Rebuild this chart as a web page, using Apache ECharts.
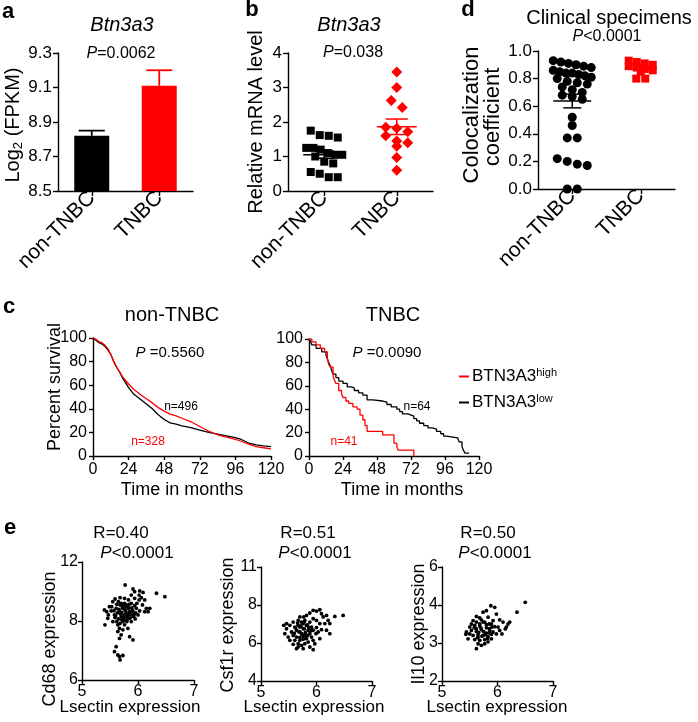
<!DOCTYPE html>
<html><head><meta charset="utf-8">
<script src="https://cdn.jsdelivr.net/npm/echarts/dist/echarts.min.js"></script>
<style>html,body{margin:0;padding:0;background:#fff}#c{width:698px;height:722px}</style>
</head><body><div id="c"></div>
<script>
// ---------------- data ----------------
const groups = ['non-TNBC', 'TNBC'];
// panel a
const aMeans = [8.82, 9.11];
const aErrors = [0.03, 0.09];
// panel b (relative mRNA level)
const bNonTNBC = [1.75, 1.62, 1.6, 1.55, 1.25, 1.2, 1.25, 1.1, 1.05, 1.0, 1.05, 0.85, 0.8, 0.55, 0.5, 0.4, 0.4];
const bTNBC = [3.45, 3.0, 2.62, 2.42, 1.82, 1.85, 1.72, 1.6, 1.45, 1.4, 1.3, 0.97, 0.6];
// panel d (colocalization coefficient)
const dNonTNBC = [0.93, 0.92, 0.91, 0.90, 0.89, 0.88, 0.86, 0.85, 0.84, 0.84, 0.83, 0.82, 0.81, 0.80, 0.78, 0.77, 0.76, 0.74, 0.72, 0.70, 0.68, 0.67, 0.65, 0.52, 0.46, 0.37, 0.37, 0.22, 0.20, 0.18, 0.17, 0.0, 0.0];
const dTNBC = [0.93, 0.92, 0.91, 0.90, 0.89, 0.88, 0.87, 0.86, 0.85, 0.80, 0.80];
// panel c (Kaplan-Meier, [months, percent survival])
const kmNonHigh = [[0,100],[2,99],[4,97],[6,96],[8,94],[10,91],[12,86],[14,80],[16,75],[18,71],[20,67],[22,64],[24,61],[27,57],[30,54],[33,51],[36,48.5],[40,45],[44,41],[48,38],[52,35.5],[56,34],[60,32],[66,29],[72,25],[78,21],[84,18],[90,16],[96,14],[100,12.5],[105,10],[110,8],[115,7],[120,6]];
const kmNonLow = [[0,100],[2,98],[4,96],[6,95],[8,93],[10,90],[12,86],[14,80],[16,75],[18,71],[20,66],[22,62],[24,58],[27,53],[30,50],[33,47],[36,44],[40,40],[44,35],[48,31],[52,28],[56,27],[60,25.5],[66,24],[72,22],[78,20],[84,18.5],[90,17],[96,15.5],[100,14],[105,11],[110,9.5],[115,8.5],[120,8]];
const kmTnbcHigh = [[0,100],[2,97.5],[5,95],[8,92],[11,89],[13,83],[14,78],[15,76],[17,68],[18,65],[19,62],[21,56],[23,53],[24,50],[26,47],[28,45],[31,42],[34,40],[36,35],[38,31],[39.5,26],[41,21],[52,18],[60,11],[62,8],[63,5],[74,0]];
const kmTnbcLow = [[0,100],[1,98],[2,95],[5,92],[9,89],[12,86],[13,83],[14,80],[15,77],[16,73],[17,70],[19,67],[21,64],[24,62],[27,59],[30,58],[32,56],[35,54],[38,52],[41,48],[45,47],[52,46],[55,44],[58,42],[62,40],[64,38],[66,36],[70,35],[72,34],[74,32],[76,30],[78,28],[81,26],[84,24],[87,23],[90,21],[93,19],[95,17],[97,15.5],[105,15.5],[106,12],[108,8],[109,5],[110,2.5],[113,2.5]];
const kmTicksX = [0, 24, 48, 72, 96, 120];
// panel e (Lsectin vs. marker expression)
const eXTicks = [5, 6, 7];
const e1YTicks = [6, 8, 12];
const e2YTicks = [4, 6, 8, 11];
const e3YTicks = [2, 3, 4, 6];
const e1Points = [[5.77,10.44],[5.91,10.17],[5.94,9.99],[6.03,10.04],[6.09,9.94],[6.02,9.76],[5.88,9.76],[5.94,9.54],[6.06,9.58],[6.33,9.88],[6.48,9.65],[6.12,9.43],[6.08,9.09],[6.15,8.86],[6.21,8.86],[6.18,8.63],[6.12,8.63],[5.59,9.49],[5.55,9.31],[5.65,9.31],[5.49,8.97],[5.44,8.63],[5.52,8.68],[5.61,8.86],[5.68,9.09],[5.76,9.20],[5.82,8.97],[5.73,8.86],[5.67,8.63],[5.58,8.41],[5.46,8.18],[5.55,7.98],[5.41,7.87],[5.64,7.87],[5.73,7.98],[5.82,8.18],[5.88,8.41],[5.91,8.63],[5.97,8.86],[5.85,8.63],[5.79,8.52],[5.70,8.30],[5.76,8.07],[5.67,7.75],[5.73,7.70],[5.70,7.53],[5.67,7.41],[5.85,7.47],[5.91,7.36],[5.61,7.13],[5.58,6.96],[5.64,6.85],[5.67,6.79],[5.73,6.83],[5.68,6.68],[5.70,9.20],[5.79,9.09],[5.88,9.20],[5.94,9.04],[5.83,8.86],[5.77,8.75],[5.71,8.59],[5.86,8.45],[5.92,8.30],[5.82,8.36],[5.74,8.23],[5.65,8.14],[5.59,8.23],[5.80,7.98],[5.88,7.98],[5.68,7.92],[5.95,8.14],[6.00,8.41],[6.03,8.68],[5.98,9.20],[6.02,9.43],[5.83,9.43],[5.76,9.54],[5.68,9.58],[5.62,9.13],[5.53,8.97],[5.47,8.41],[5.40,8.75],[5.62,7.98],[5.76,7.87],[5.82,7.75],[5.64,7.64],[5.72,8.95],[5.78,8.68],[5.84,8.55],[5.90,8.72],[5.75,8.40],[5.69,8.48],[5.63,8.55],[5.80,8.28],[5.86,8.20],[5.71,8.10],[5.78,9.00],[5.66,8.78],[5.74,9.10],[5.89,8.88],[5.96,8.55],[5.60,8.35],[5.84,9.12],[5.93,8.42],[5.57,8.70],[5.81,8.12]];
const e2Points = [[5.94,7.72],[6.00,7.68],[6.06,7.75],[6.09,7.54],[5.88,7.58],[5.82,7.45],[5.77,7.37],[6.12,7.37],[6.18,7.45],[6.21,7.19],[6.33,7.40],[6.48,7.45],[6.24,7.02],[6.15,7.02],[6.06,7.02],[6.00,6.81],[6.09,6.70],[6.18,6.67],[6.24,6.49],[5.99,6.49],[5.91,6.31],[5.94,6.14],[5.85,6.05],[5.79,5.96],[5.73,5.88],[5.67,5.79],[5.64,5.70],[5.58,5.93],[5.52,6.14],[5.49,6.31],[5.43,6.49],[5.46,6.75],[5.52,6.93],[5.58,7.10],[5.67,7.19],[5.70,7.37],[5.61,6.84],[5.55,6.58],[5.64,6.31],[5.73,6.49],[5.76,6.75],[5.82,6.93],[5.88,7.10],[5.94,7.28],[6.00,7.19],[5.85,6.67],[5.79,6.40],[5.70,6.14],[5.61,6.14],[5.88,5.79],[5.94,5.65],[5.97,5.96],[6.06,6.23],[5.46,7.02],[5.41,6.93],[5.70,6.84],[5.76,7.02],[5.79,7.19],[5.73,7.10],[5.67,6.93],[5.64,6.67],[5.70,6.58],[5.76,6.31],[5.82,6.23],[5.88,6.49],[5.91,6.84],[5.94,6.67],[6.03,6.58],[5.58,6.40],[5.67,5.96],[5.76,5.70],[5.72,6.90],[5.78,6.75],[5.84,6.95],[5.68,6.60],[5.74,6.45],[5.80,6.55],[5.62,6.80],[5.86,6.80],[5.66,7.05],[5.90,6.65],[5.76,6.20],[5.70,6.30],[5.84,6.40],[5.60,6.50],[5.78,7.10]];
const e3Points = [[6.50,4.14],[6.35,3.81],[5.88,3.98],[5.95,3.94],[5.80,3.85],[5.74,3.81],[5.98,3.76],[5.62,3.70],[5.68,3.66],[5.83,3.68],[6.04,3.61],[6.10,3.55],[6.19,3.50],[6.22,3.55],[5.56,3.59],[5.53,3.50],[5.50,3.42],[5.59,3.46],[5.68,3.50],[5.77,3.55],[5.89,3.50],[5.95,3.43],[6.01,3.42],[6.14,3.37],[6.16,3.42],[5.44,3.29],[5.43,3.23],[5.53,3.33],[5.62,3.37],[5.71,3.35],[5.80,3.40],[5.86,3.33],[5.92,3.29],[5.98,3.24],[5.56,3.20],[5.65,3.23],[5.74,3.20],[5.83,3.17],[5.47,3.11],[5.59,3.09],[5.68,3.07],[5.77,3.09],[5.89,3.11],[5.65,2.98],[5.71,2.94],[5.77,2.98],[5.62,2.85],[5.83,3.03],[6.04,3.33],[6.08,3.24],[5.50,3.24],[5.62,3.55],[5.71,3.61],[5.92,3.59],[5.85,3.50],[5.65,3.16],[5.80,3.26],[5.89,3.23],[5.70,3.40],[5.75,3.30],[5.80,3.48],[5.66,3.28],[5.72,3.18],[5.85,3.38],[5.78,3.22],[5.62,3.30],[5.68,3.45],[5.90,3.42],[5.74,3.55],[5.82,3.12],[5.64,3.14],[5.58,3.40],[5.86,3.26]];

// ---------------- helpers ----------------
const FF = '"Liberation Sans", Arial, Helvetica, sans-serif';
const K = '#000000', RED = '#ff0000';

function mean(a) { return a.reduce((s, v) => s + v, 0) / a.length; }
function sem(a) { const m = mean(a); const sd = Math.sqrt(a.reduce((s, v) => s + (v - m) * (v - m), 0) / (a.length - 1)); return sd / Math.sqrt(a.length); }
// column scatter layout: points grouped into rows by value, each row spread symmetrically (limited width)
function column(vals, center, pxPerY, pxPerX, size, rowH, maxHalf) {
  const idx = vals.map((v, i) => i).sort((a, b) => vals[b] - vals[a]);
  const rows = []; let cur = [];
  for (const i of idx) {
    if (cur.length && (vals[cur[0]] - vals[i]) * pxPerY >= rowH) { rows.push(cur); cur = []; }
    cur.push(i);
  }
  if (cur.length) rows.push(cur);
  const out = new Array(vals.length);
  for (const r of rows) {
    const n = r.length;
    const sp = n > 1 ? Math.min(size + 1, 2 * maxHalf / (n - 1)) : 0;
    r.forEach((i, j) => { out[i] = [center + ((j - (n - 1) / 2) * sp) / pxPerX, vals[i]]; });
  }
  return out;
}
// piecewise-linear mapping used by the panel-e y axes (evenly spaced, uneven tick values)
function seg(v, ticks) {
  for (let i = 0; i < ticks.length - 1; i++) {
    if (v <= ticks[i + 1] || i === ticks.length - 2) return i + (v - ticks[i]) / (ticks[i + 1] - ticks[i]);
  }
}
function T(x, y, text, size, o) {
  o = o || {};
  const st = {
    text: text, fontSize: size, fontFamily: FF, fontWeight: o.bold ? 'bold' : 'normal',
    fontStyle: o.italic ? 'italic' : 'normal', fill: o.color || K,
    align: 'center', verticalAlign: 'middle', textAlign: 'center', textVerticalAlign: 'middle'
  };
  if (o.rich) st.rich = o.rich;
  return { type: 'text', x: x, y: y, rotation: o.rot || 0, silent: true, style: st };
}
function pRich(size) { return { i: { fontStyle: 'italic', fontSize: size, fontFamily: FF, fill: K, color: K } }; }

const AX = { show: true, onZero: false, lineStyle: { color: K, width: 1.4 } };
const TK = (len) => ({ show: true, inside: false, length: len, lineStyle: { color: K, width: 1.4 } });
const LB = (size, margin, extra) => Object.assign({ color: K, fontSize: size, fontFamily: FF, margin: margin }, extra || {});

function catX(grid) {
  return { type: 'category', gridIndex: grid, data: groups, boundaryGap: true,
    axisLine: AX, axisTick: Object.assign(TK(5), { alignWithLabel: true }),
    axisLabel: LB(21, 4, { rotate: 45, interval: 0 }), splitLine: { show: false } };
}
function hidX(grid) { return { type: 'value', gridIndex: grid, min: -0.5, max: 1.5, show: false, splitLine: { show: false } }; }
function valAxis(grid, min, max, interval, size, fmt, tick) {
  return { type: 'value', gridIndex: grid, min: min, max: max, interval: interval,
    axisLine: AX, axisTick: TK(tick || 5), splitLine: { show: false },
    axisLabel: LB(size, 6, fmt ? { formatter: fmt } : {}) };
}
function meanSem(halfMean, halfCap, color) {
  return function (params, api) {
    const x = api.value(0), m = api.value(1), s = api.value(2);
    const c = api.coord([x, m]), t = api.coord([x, m + s]), b = api.coord([x, m - s]);
    const st = { stroke: color, lineWidth: 1.5, fill: 'none' };
    return { type: 'group', children: [
      { type: 'line', shape: { x1: c[0] - halfMean, y1: c[1], x2: c[0] + halfMean, y2: c[1] }, style: st },
      { type: 'line', shape: { x1: t[0], y1: t[1], x2: b[0], y2: b[1] }, style: st },
      { type: 'line', shape: { x1: t[0] - halfCap, y1: t[1], x2: t[0] + halfCap, y2: t[1] }, style: st },
      { type: 'line', shape: { x1: b[0] - halfCap, y1: b[1], x2: b[0] + halfCap, y2: b[1] }, style: st }
    ] };
  };
}
function upErr(halfCap) {
  return function (params, api) {
    const i = api.value(0), m = api.value(1), e = api.value(2);
    const c = api.coord([i, m]), t = api.coord([i, m + e]);
    const color = i ? RED : K;
    const st = { stroke: color, lineWidth: 1.8, fill: 'none' };
    return { type: 'group', children: [
      { type: 'line', shape: { x1: c[0], y1: c[1], x2: t[0], y2: t[1] }, style: st },
      { type: 'line', shape: { x1: t[0] - halfCap, y1: t[1], x2: t[0] + halfCap, y2: t[1] }, style: st }
    ] };
  };
}

// grid geometry
const G = [
  { left: 58, top: 53, width: 135, height: 138 },   // a
  { left: 288, top: 53, width: 145, height: 138 },  // b
  { left: 538, top: 51, width: 137, height: 138 },  // d
  { left: 93, top: 338, width: 178, height: 118 },  // c non-TNBC
  { left: 309, top: 339, width: 170, height: 117 }, // c TNBC
  { left: 82, top: 562, width: 112, height: 118 },  // e1
  { left: 261, top: 567, width: 111, height: 114 }, // e2
  { left: 442, top: 567, width: 111, height: 114 }  // e3
].map(g => Object.assign({ outerBoundsMode: 'none', containLabel: false }, g));

const kmLine = (name, data, color, xi, yi, step) => ({
  type: 'line', name: name, xAxisIndex: xi, yAxisIndex: yi, data: data, step: step,
  symbol: 'none', lineStyle: { color: color, width: 1.3 }, itemStyle: { color: color }, silent: true, animation: false
});
const eScatter = (pts, ticks, xi, yi) => ({
  type: 'scatter', xAxisIndex: xi, yAxisIndex: yi, symbolSize: 3.8, itemStyle: { color: K, opacity: 1 },
  data: pts.map(p => [p[0], seg(p[1], ticks)]), silent: true, animation: false
});
const eY = (grid, ticks) => ({
  type: 'value', gridIndex: grid, min: 0, max: ticks.length - 1, interval: 1,
  axisLine: AX, axisTick: TK(4), splitLine: { show: false },
  axisLabel: LB(16, 4, { formatter: v => String(ticks[Math.round(v)]) })
});
const eX = (grid) => ({
  type: 'value', gridIndex: grid, min: eXTicks[0], max: eXTicks[eXTicks.length - 1], interval: 1,
  axisLine: AX, axisTick: TK(4), splitLine: { show: false }, axisLabel: LB(16, 4)
});
const kmX = (grid) => ({
  type: 'value', gridIndex: grid, min: kmTicksX[0], max: kmTicksX[kmTicksX.length - 1], interval: 24,
  axisLine: AX, axisTick: TK(4), splitLine: { show: false }, axisLabel: LB(16, 6)
});

const option = {
  animation: false,
  backgroundColor: '#ffffff',
  textStyle: { fontFamily: FF, color: K },
  grid: G,
  xAxis: [
    catX(0),            // 0 a
    catX(1),            // 1 b labels
    hidX(1),            // 2 b column positions
    catX(2),            // 3 d labels
    hidX(2),            // 4 d column positions
    kmX(3),             // 5
    kmX(4),             // 6
    eX(5), eX(6), eX(7) // 7,8,9
  ],
  yAxis: [
    valAxis(0, 8.5, 9.3, 0.2, 17, v => v.toFixed(1)),
    valAxis(1, 0, 4, 1, 17),
    valAxis(2, 0, 1, 0.2, 17, v => v.toFixed(1)),
    valAxis(3, 0, 100, 20, 16, null, 4),
    valAxis(4, 0, 100, 20, 16, null, 4),
    eY(5, e1YTicks), eY(6, e2YTicks), eY(7, e3YTicks)
  ],
  legend: {
    orient: 'vertical', left: 454, top: 362, itemWidth: 10, itemHeight: 2, itemGap: 8, icon: 'rect',
    selectedMode: false, data: ['high', 'low'],
    formatter: n => 'BTN3A3{s|' + n + '}',
    textStyle: { fontSize: 17, fontFamily: FF, color: K, padding: [0, 0, 0, -2],
      rich: { s: { fontSize: 11, fontFamily: FF, color: K, verticalAlign: 'top', padding: [0, 0, 8, 0] } } }
  },
  series: [
    { type: 'bar', xAxisIndex: 0, yAxisIndex: 0, barWidth: 35, silent: true,
      data: aMeans.map((v, i) => ({ value: v, itemStyle: { color: i ? RED : K } })) },
    { type: 'custom', xAxisIndex: 0, yAxisIndex: 0, silent: true, renderItem: upErr(13),
      data: aMeans.map((m, i) => [i, m, aErrors[i]]) },

    { type: 'scatter', xAxisIndex: 2, yAxisIndex: 1, symbol: 'rect', symbolSize: 8, silent: true,
      itemStyle: { color: K, opacity: 1 }, data: column(bNonTNBC, 0, 138 / 4, 145 / 2, 8, 7, 18) },
    { type: 'scatter', xAxisIndex: 2, yAxisIndex: 1, symbol: 'diamond', symbolSize: 11, silent: true,
      itemStyle: { color: RED, opacity: 1 }, data: column(bTNBC, 1, 138 / 4, 145 / 2, 10, 7, 11) },
    { type: 'custom', xAxisIndex: 2, yAxisIndex: 1, silent: true, z: 5, renderItem: meanSem(21, 10, K),
      data: [[0, mean(bNonTNBC), sem(bNonTNBC)]] },
    { type: 'custom', xAxisIndex: 2, yAxisIndex: 1, silent: true, z: 5, renderItem: meanSem(20, 11, RED),
      data: [[1, mean(bTNBC), sem(bTNBC)]] },

    { type: 'scatter', xAxisIndex: 4, yAxisIndex: 2, symbol: 'circle', symbolSize: 9, silent: true,
      itemStyle: { color: K, opacity: 1 }, data: column(dNonTNBC, 0, 138, 137 / 2, 9, 7, 19) },
    { type: 'scatter', xAxisIndex: 4, yAxisIndex: 2, symbol: 'rect', symbolSize: 8, silent: true,
      itemStyle: { color: RED, opacity: 1 }, data: column(dTNBC, 1, 138, 137 / 2, 8, 5, 12) },
    { type: 'custom', xAxisIndex: 4, yAxisIndex: 2, silent: true, z: 5, renderItem: meanSem(19, 9, K),
      data: [[0, mean(dNonTNBC), sem(dNonTNBC)]] },
    { type: 'custom', xAxisIndex: 4, yAxisIndex: 2, silent: true, z: 5, renderItem: meanSem(16, 8, RED),
      data: [[1, mean(dTNBC), sem(dTNBC)]] },

    kmLine('low', kmNonLow, K, 5, 3, false),
    kmLine('high', kmNonHigh, RED, 5, 3, false),
    kmLine('low', kmTnbcLow, K, 6, 4, 'end'),
    kmLine('high', kmTnbcHigh, RED, 6, 4, 'end'),

    eScatter(e1Points, e1YTicks, 7, 5),
    eScatter(e2Points, e2YTicks, 8, 6),
    eScatter(e3Points, e3YTicks, 9, 7)
  ],
  graphic: { elements: [
    // panel letters
    T(8, 12, 'a', 22, { bold: true }), T(252, 10, 'b', 22, { bold: true }), T(468, 10, 'd', 22, { bold: true }),
    T(9, 307, 'c', 22, { bold: true }), T(10, 528, 'e', 22, { bold: true }),
    // panel a
    T(122, 25, 'Btn3a3', 20, { italic: true }),
    T(121, 54, '{i|P}=0.0062', 16, { rich: pRich(16) }),
    T(13, 125, 'Log{s|2} (FPKM)', 20, { rot: Math.PI / 2, rich: { s: { fontSize: 13, fontFamily: FF, fill: K, padding: [10, 0, 0, 0] } } }),
    // panel b
    T(349, 25, 'Btn3a3', 20, { italic: true }),
    T(353, 53, '{i|P}=0.038', 16, { rich: pRich(16) }),
    T(256, 122, 'Relative mRNA level', 20, { rot: Math.PI / 2 }),
    // panel d
    T(609, 18, 'Clinical specimens', 20),
    T(607, 37, '{i|P}<0.0001', 16, { rich: pRich(16) }),
    T(472, 115, 'Colocalization', 22, { rot: Math.PI / 2 }),
    T(493, 117, 'coefficient', 22, { rot: Math.PI / 2 }),
    // panel c
    T(172, 315, 'non-TNBC', 20), T(393, 315, 'TNBC', 20),
    T(170, 353, '{i|P} =0.5560', 15, { rich: pRich(15) }),
    T(387, 353, '{i|P} =0.0090', 15, { rich: pRich(15) }),
    T(181, 407, 'n=496', 12), T(148, 442, 'n=328', 12, { color: RED }),
    T(417, 407, 'n=64', 12), T(344, 442, 'n=41', 12, { color: RED }),
    T(55, 387, 'Percent survival', 18, { rot: Math.PI / 2 }),
    T(182, 490, 'Time in months', 18), T(402, 490, 'Time in months', 18),
    // panel e
    T(121, 533, 'R=0.40', 17), T(137, 553, '{i|P}<0.0001', 17, { rich: pRich(17) }),
    T(308, 533, 'R=0.51', 17), T(315, 553, '{i|P}<0.0001', 17, { rich: pRich(17) }),
    T(488, 533, 'R=0.50', 17), T(495, 553, '{i|P}<0.0001', 17, { rich: pRich(17) }),
    T(50, 639, 'Cd68 expression', 18, { rot: Math.PI / 2 }),
    T(228, 625, 'Csf1r expression', 18, { rot: Math.PI / 2 }),
    T(419, 624, 'Il10 expression', 18, { rot: Math.PI / 2 }),
    T(130, 707, 'Lsectin expression', 17), T(314, 707, 'Lsectin expression', 17), T(497, 707, 'Lsectin expression', 17)
  ] }
};

const chart = echarts.init(document.getElementById('c'), null, { renderer: 'canvas', width: 698, height: 722 });
chart.setOption(option);
</script>
</body></html>
